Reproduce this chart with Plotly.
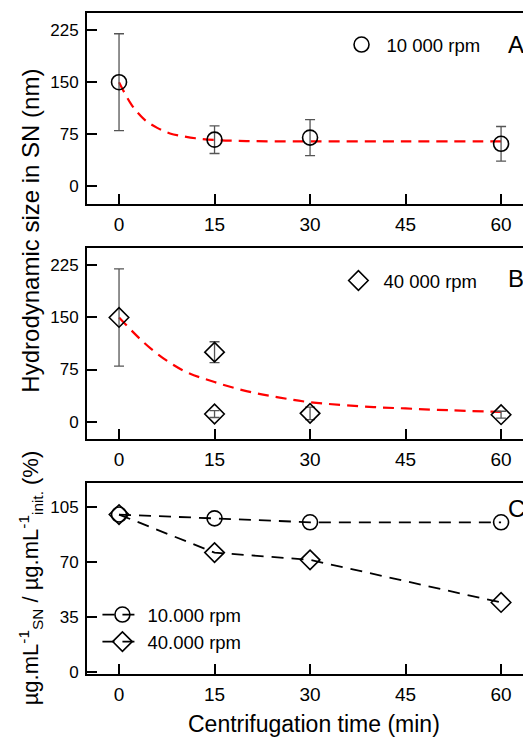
import plotly.graph_objects as go

# Data
time = [0, 15, 30, 60]

# Panel A: 10 000 rpm
size_a = [150, 67, 70, 61]
err_a = [70, 20, 26, 25]
fit_a_x = [0, 2, 4, 6, 8, 10, 12, 15, 20, 30, 45, 60]
fit_a_y = [150, 117, 96, 84, 76, 72, 69, 66.5, 65, 64.5, 64.5, 64.5]

# Panel B: 40 000 rpm
time_b = [0, 15, 15, 30, 60]
size_b = [150, 100, 11, 12, 10]
err_b = [70, 15, 5, 9, 5]
fit_b_x = [0, 5, 10, 15, 20, 25, 30, 40, 45, 50, 60]
fit_b_y = [150, 105, 74, 57, 44, 35, 28, 21, 19, 17, 14]

# Panel C: concentration ratio (%)
conc_10k = [100, 97.6, 95.1, 95.1]
conc_40k = [100, 75.9, 71.3, 44.3]

FONT = "Liberation Sans, Arial, sans-serif"

fig = go.Figure()

# Panel A
fig.add_trace(go.Scatter(x=fit_a_x, y=fit_a_y, mode="lines", line_shape="spline",
                         line=dict(color="red", width=2.2, dash="11px,7px"),
                         showlegend=False, xaxis="x", yaxis="y"))
fig.add_trace(go.Scatter(x=time, y=size_a, mode="markers", name="10 000 rpm",
                         marker=dict(symbol="circle-open", size=15, color="black",
                                     line=dict(width=1.6)),
                         error_y=dict(type="data", array=err_a, color="#555",
                                      thickness=1.3, width=5),
                         xaxis="x", yaxis="y", legend="legend"))

# Panel B
fig.add_trace(go.Scatter(x=fit_b_x, y=fit_b_y, mode="lines", line_shape="spline",
                         line=dict(color="red", width=2.2, dash="11px,7px"),
                         showlegend=False, xaxis="x2", yaxis="y2"))
fig.add_trace(go.Scatter(x=time_b, y=size_b, mode="markers", name="40 000 rpm",
                         marker=dict(symbol="diamond-open", size=15, color="black",
                                     line=dict(width=1.6)),
                         error_y=dict(type="data", array=err_b, color="#555",
                                      thickness=1.3, width=5),
                         xaxis="x2", yaxis="y2", legend="legend2"))

# Panel C
fig.add_trace(go.Scatter(x=time, y=conc_10k, mode="lines+markers", name="10.000 rpm",
                         line=dict(color="black", width=1.8, dash="12px,8px"),
                         marker=dict(symbol="circle-open", size=15, color="black",
                                     line=dict(width=1.6)),
                         xaxis="x3", yaxis="y3", legend="legend3"))
fig.add_trace(go.Scatter(x=time, y=conc_40k, mode="lines+markers", name="40.000 rpm",
                         line=dict(color="black", width=1.8, dash="12px,8px"),
                         marker=dict(symbol="diamond-open", size=15, color="black",
                                     line=dict(width=1.6)),
                         xaxis="x3", yaxis="y3", legend="legend3"))

xcommon = dict(range=[-5.03, 64.7], tickvals=[0, 15, 30, 45, 60], ticks="inside",
               ticklen=10, tickwidth=2, tickcolor="black", showline=True,
               linecolor="black", linewidth=2, mirror=True, showgrid=False,
               zeroline=False, automargin=False, ticklabelstandoff=2,
               tickfont=dict(size=19, color="black"))
ycommon = dict(ticks="inside", ticklen=10, tickwidth=2, tickcolor="black",
               showline=True, linecolor="black", linewidth=2, showgrid=False,
               zeroline=False, automargin=False, ticklabelstandoff=3,
               tickfont=dict(size=17, color="black"))

legcommon = dict(bgcolor="rgba(0,0,0,0)", font=dict(size=18.5, color="black"),
                 xref="paper", yref="paper", yanchor="middle", xanchor="left",
                 itemwidth=40)

# the page body adds an 8 px offset, so the figure is shrunk by that amount
fig.update_layout(
    width=523, height=729,
    margin=dict(l=79, r=0, t=5, b=63),
    plot_bgcolor="white", paper_bgcolor="white",
    font=dict(family=FONT, color="black"),
    xaxis=dict(xcommon, domain=[0, 1], anchor="y"),
    yaxis=dict(ycommon, domain=[0.711, 1], range=[-26, 250],
               tickvals=[0, 75, 150, 225], anchor="x"),
    xaxis2=dict(xcommon, domain=[0, 1], anchor="y2"),
    yaxis2=dict(ycommon, domain=[0.3555, 0.6445], range=[-25, 250],
                tickvals=[0, 75, 150, 225], anchor="x2"),
    xaxis3=dict(xcommon, domain=[0, 1], anchor="y3"),
    yaxis3=dict(ycommon, domain=[0, 0.289], range=[-1, 120],
                tickvals=[0, 35, 70, 105], anchor="x3"),
    legend=dict(legcommon, x=0.562, y=0.9516),
    legend2=dict(legcommon, x=0.555, y=0.5946),
    legend3=dict(legcommon, x=0.0235, y=0.0688, tracegroupgap=0),
    annotations=[
        dict(text="A", x=0.9437, y=0.9531, xref="paper", yref="paper",
             xanchor="left", yanchor="middle", showarrow=False, font=dict(size=24)),
        dict(text="B", x=0.9437, y=0.599, xref="paper", yref="paper",
             xanchor="left", yanchor="middle", showarrow=False, font=dict(size=24)),
        dict(text="C", x=0.9437, y=0.251, xref="paper", yref="paper",
             xanchor="left", yanchor="middle", showarrow=False, font=dict(size=24)),
        dict(text="Hydrodynamic size in SN (nm)", x=-0.128, y=0.671,
             xref="paper", yref="paper", xanchor="center", yanchor="middle",
             textangle=-90, showarrow=False, font=dict(size=24)),
        dict(text="µg.mL<sup>-1</sup><sub>SN</sub> / µg.mL<sup>-1</sup><sub>init.</sub> (%)",
             x=-0.128, y=0.145, xref="paper", yref="paper", xanchor="center",
             yanchor="middle", textangle=-90, showarrow=False, font=dict(size=22)),
        dict(text="Centrifugation time (min)", x=0.511, y=-0.076, xref="paper",
             yref="paper", xanchor="center", yanchor="middle", showarrow=False,
             font=dict(size=23)),
    ],
)

fig.write_html("out.html")
